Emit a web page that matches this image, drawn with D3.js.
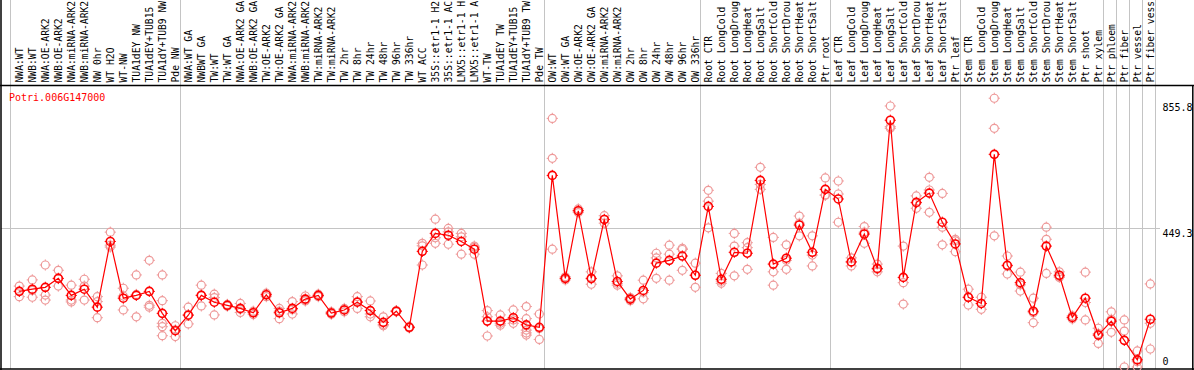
<!DOCTYPE html>
<html>
<head>
<meta charset="utf-8">
<script src="https://cdn.jsdelivr.net/npm/d3@7"></script>
<style>
  html, body { margin: 0; padding: 0; background: #fff; }
  svg { display: block; }
  text { font-family: "DejaVu Sans Mono", monospace; }
</style>
</head>
<body>
<svg id="chart" width="1194" height="370"></svg>
<script>
const geneId = "Potri.006G147000";

const categories = [
  "NWA:WT", "NWB:WT", "NWA:OE-ARK2", "NWB:OE-ARK2", "NWA:miRNA-ARK2", "NWB:miRNA-ARK2",
  "NW 0hr", "WT H2O", "WT-NW", "TUA1dEY NW", "TUA1dEY+TUB15", "TUA1dY+TUB9 NW", "Pde NW",
  "NWA:WT GA", "NWBWT GA", "TW:WT", "TW:WT GA", "NWA:OE-ARK2 GA", "NWB:OE-ARK2 GA",
  "TW:OE-ARK2", "TW:OE-ARK2 GA", "NWA:miRNA-ARK2", "NWB:miRNA-ARK2", "TW:miRNA-ARK2",
  "TW:miRNA-ARK2 GA", "TW 2hr", "TW 8hr", "TW 24hr", "TW 48hr", "TW 96hr", "TW 336hr",
  "WT ACC", "35S::etr1-1 H2O", "35S::etr1-1 ACC", "LMX5::etr1-1 H2O", "LMX5::etr1-1 ACC",
  "WT-TW", "TUA1dEY TW", "TUA1dEY+TUB15 TW", "TUA1dY+TUB9 TW", "Pde TW",
  "OW:WT", "OW:WT GA", "OW:OE-ARK2", "OW:OE-ARK2 GA", "OW:miRNA-ARK2", "OW:miRNA-ARK2 GA",
  "OW 2hr", "OW 8hr", "OW 24hr", "OW 48hr", "OW 96hr", "OW 336hr",
  "Root CTR", "Root LongCold", "Root LongDrought", "Root LongHeat", "Root LongSalt",
  "Root ShortCold", "Root ShortDrought", "Root ShortHeat", "Root ShortSalt", "Ptr root",
  "Leaf CTR", "Leaf LongCold", "Leaf LongDrought", "Leaf LongHeat", "Leaf LongSalt",
  "Leaf ShortCold", "Leaf ShortDrought", "Leaf ShortHeat", "Leaf ShortSalt", "Ptr leaf",
  "Stem CTR", "Stem LongCold", "Stem LongDrought", "Stem LongHeat", "Stem LongSalt",
  "Stem ShortCold", "Stem ShortDrought", "Stem ShortHeat", "Stem ShortSalt",
  "Ptr shoot", "Ptr xylem", "Ptr phloem", "Ptr fiber", "Ptr vessel", "Ptr fiber vessel"
];

const meanValues = [
  244, 251, 257, 286, 231, 251, 193, 405, 222, 231, 244, 173, 117,
  167, 231, 209, 199, 189, 175, 233, 175, 189, 219, 231, 174, 184, 209, 182, 144, 180, 128,
  373, 431, 425, 405, 380, 148, 148, 159, 136, 128,
  618, 286, 504, 286, 476, 276, 219, 247, 335, 344, 358, 296,
  518, 283, 370, 367, 602, 332, 351, 458, 370, 573,
  542, 339, 429, 318, 796, 289, 531, 561, 467, 397,
  225, 205, 686, 328, 272, 180, 390, 296, 160, 222, 103, 148, 86, 23, 154
];

const replicateValues = [
  [261, 244, 227], [281, 247, 225], [329, 232, 216], [312, 285, 261], [264, 216, 210],
  [283, 261, 216], [227, 211, 159], [435, 393, 387], [254, 229, 184], [297, 234, 162],
  [344, 199, 193], [297, 214, 141, 130, 101], [133, 120, 98],
  [193, 169, 139], [264, 232, 197], [235, 224, 168], [202, 199, 196], [205, 186, 176],
  [180, 176, 169], [238, 233, 227], [189, 180, 156], [211, 185, 171], [229, 215, 213],
  [235, 231, 227], [178, 174, 170], [189, 185, 178], [227, 211, 189], [213, 171, 162],
  [162, 137, 133], [182, 180, 178], [130, 128, 126],
  [399, 391, 329], [477, 417, 399], [447, 436, 396], [431, 420, 364], [390, 386, 364],
  [182, 162, 100], [168, 141, 135], [184, 152, 141], [195, 156, 119, 110, 103], [171, 124, 89],
  [802, 673, 380], [291, 286, 281], [510, 504, 498], [307, 284, 267], [488, 476, 464],
  [294, 270, 264], [224, 219, 214], [280, 241, 220], [367, 352, 286], [393, 364, 280],
  [383, 379, 312], [335, 296, 257],
  [570, 535, 449], [302, 277, 270], [431, 390, 294], [401, 385, 315], [644, 589, 573],
  [418, 307, 264], [394, 344, 315], [487, 464, 423], [423, 361, 326], [610, 555, 554],
  [600, 558, 467], [352, 339, 326], [453, 435, 399], [332, 315, 307], [842, 775, 770],
  [390, 272, 203], [552, 529, 512], [612, 571, 499], [560, 451, 394], [412, 407, 372],
  [251, 224, 200], [225, 204, 186], [867, 770, 423], [358, 326, 300], [306, 265, 245],
  [222, 175, 143], [451, 412, 302], [307, 292, 289], [165, 160, 155], [306, 208, 152],
  [125, 108, 76], [178, 154, 112], [152, 116, 0], [52, 17, 0], [268, 141, 58]
];

// indices of the last sample in each group (a grid line follows each)
const groupEnds = [12, 40, 52, 62, 72, 83, 84, 85, 86, 87];

const yTickValues = [0, 449.3, 855.8];
const yTickLabels = ["0", "449.3", "855.8"];

// the header shows at most this many characters of each label
const labelMaxChars = 14;

const svg = d3.select("#chart");
const W = 1194, H = 370;

const x = d3.scalePoint()
  .domain(d3.range(categories.length))
  .range([19.3, 1150.3]);

const y = d3.scaleLinear()
  .domain([0, 855.8])
  .range([367, 101.7]);

svg.append("rect").attr("width", W).attr("height", H).attr("fill", "#fff");

const grid = svg.append("g").attr("stroke", "#c4c4c4").attr("stroke-width", 1);
const vx = [x(0) - 9].concat(groupEnds.map(i => x(i) + 5));
grid.selectAll("line.v").data(vx).join("line")
  .attr("class", "v")
  .attr("x1", d => Math.round(d) + 0.5).attr("x2", d => Math.round(d) + 0.5)
  .attr("y1", 0).attr("y2", 369);

grid.append("line")
  .attr("x1", 1).attr("x2", 1160)
  .attr("y1", Math.round(y(yTickValues[1])) + 0.5)
  .attr("y2", Math.round(y(yTickValues[1])) + 0.5);

const border = svg.append("g").attr("stroke", "#000").attr("stroke-width", 1.5);
border.append("line").attr("x1", 0).attr("x2", W).attr("y1", 85.5).attr("y2", 85.5);
border.append("line").attr("x1", 1).attr("x2", 1).attr("y1", 0).attr("y2", H);
border.append("line").attr("x1", 0).attr("x2", W).attr("y1", 369).attr("y2", 369);
border.append("line").attr("x1", 1192.8).attr("x2", 1192.8).attr("y1", 86).attr("y2", H);

// category labels (rotated)
svg.append("g").selectAll("text").data(categories).join("text")
  .attr("transform", (d, i) => `translate(${x(i) + 3.5},82.5) rotate(-90)`)
  .attr("font-size", 9.7)
  .attr("fill", "#000")
  .text(d => d.slice(0, labelMaxChars));

svg.append("g").selectAll("text").data(yTickValues).join("text")
  .attr("x", 1162.5)
  .attr("y", (d, i) => Math.min(y(d) + 9, 365))
  .attr("font-size", 10)
  .attr("fill", "#000")
  .text((d, i) => yTickLabels[i]);

svg.append("text")
  .attr("x", 9).attr("y", 100.5)
  .attr("font-size", 10)
  .attr("fill", "#ff0000")
  .text(geneId);

function marker(g, cx, cy, color, sw) {
  g.append("circle").attr("cx", cx).attr("cy", cy).attr("r", 4)
    .attr("fill", "none").attr("stroke", color).attr("stroke-width", sw);
  const t = 1.6;
  g.append("path")
    .attr("d", `M${cx},${cy - 4 - t}V${cy - 4}M${cx},${cy + 4}V${cy + 4 + t}M${cx - 4 - t},${cy}H${cx - 4}M${cx + 4},${cy}H${cx + 4 + t}`)
    .attr("stroke", color).attr("stroke-width", 1).attr("fill", "none");
}

const repG = svg.append("g");
replicateValues.forEach((reps, i) => {
  reps.forEach(v => marker(repG, x(i), y(v), "#ee9999", 1.2));
});

svg.append("path")
  .datum(meanValues)
  .attr("fill", "none")
  .attr("stroke", "#ff0000")
  .attr("stroke-width", 1.2)
  .attr("d", d3.line().x((d, i) => x(i)).y(d => y(d)));

const meanG = svg.append("g");
meanValues.forEach((v, i) => marker(meanG, x(i), y(v), "#ff0000", 1.6));
</script>
</body>
</html>
